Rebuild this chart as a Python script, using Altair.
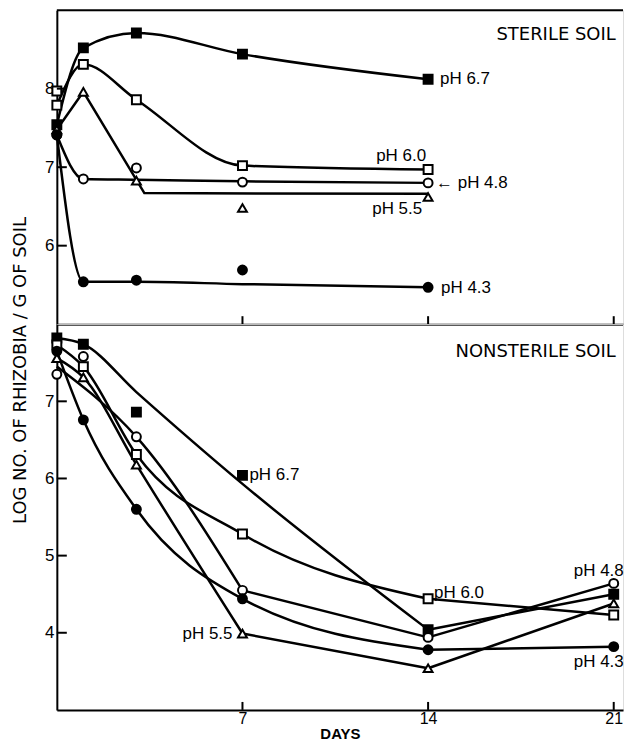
import altair as alt
import pandas as pd

SERIES = ["pH 6.7", "pH 6.0", "pH 5.5", "pH 4.8", "pH 4.3"]
SHAPES = ["square", "square", "triangle-up", "circle", "circle"]
FILLS = ["black", "white", "white", "white", "black"]

# ---------------- Sterile soil (observed points) ----------------
ST_DAYS = [0, 1, 3, 7, 14]
st_ph67 = [7.54, 8.52, 8.71, 8.44, 8.12]
st_ph60 = [7.79, 8.31, 7.86, 7.02, 6.97]
st_ph55 = [7.48, 7.96, 6.83, 6.48, 6.62]
st_ph48 = [7.41, 6.85, 6.99, 6.81, 6.80]
st_ph43 = [7.41, 5.54, 5.56, 5.69, 5.47]
st_extra_days = [0]
st_extra_vals = [7.97]          # second open square at day 0 (pH 6.0)

# Sterile soil drawn curves
st_curve_days = {
    "pH 6.7": [0, 1, 3, 7, 14],
    "pH 6.0": [0, 1, 3, 7, 14],
    "pH 5.5": [0, 1, 3.3, 14],
    "pH 4.8": [0, 1, 3, 7, 14],
    "pH 4.3": [0, 1, 3, 7, 14],
}
st_curve_vals = {
    "pH 6.7": [7.54, 8.52, 8.71, 8.44, 8.12],
    "pH 6.0": [7.79, 8.31, 7.86, 7.02, 6.97],
    "pH 5.5": [7.48, 7.96, 6.67, 6.66],
    "pH 4.8": [7.41, 6.85, 6.84, 6.82, 6.80],
    "pH 4.3": [7.41, 5.54, 5.54, 5.51, 5.47],
}
# sterile pH 5.5 is drawn with straight segments
st_linear = ["pH 5.5"]

# ---------------- Nonsterile soil (observed points) ----------------
NS_DAYS = [0, 1, 3, 7, 14, 21]
ns_ph67 = [7.82, 7.74, 6.86, 6.04, 4.04, 4.50]
ns_ph60 = [7.73, 7.45, 6.31, 5.28, 4.44, 4.23]
ns_ph55 = [7.56, 7.31, 6.18, 3.99, 3.54, 4.38]
ns_ph48 = [7.35, 7.58, 6.54, 4.55, 3.94, 4.64]
ns_ph43 = [7.65, 6.76, 5.60, 4.44, 3.78, 3.82]

ns_curve_days = {
    "pH 6.7": [0, 1, 3, 7, 14, 21],
    "pH 6.0": [0, 1, 3, 7, 14, 21],
    "pH 5.5": [0, 1, 3, 7, 14, 21],
    "pH 4.8": [0, 3, 7, 14, 21],
    "pH 4.3": [0, 1, 3, 7, 14, 21],
}
ns_curve_vals = {
    "pH 6.7": [7.82, 7.74, 7.12, 5.93, 4.04, 4.50],
    "pH 6.0": [7.73, 7.45, 6.31, 5.28, 4.44, 4.23],
    "pH 5.5": [7.56, 7.31, 6.18, 3.99, 3.54, 4.38],
    "pH 4.8": [7.45, 6.54, 4.55, 3.94, 4.64],
    "pH 4.3": [7.65, 6.76, 5.60, 4.44, 3.78, 3.82],
}
# days where the drawn curve has a sharp corner (curve is broken there)
ns_corners = {
    "pH 6.7": [14],
    "pH 6.0": [14],
    "pH 5.5": [7, 14],
    "pH 4.8": [7, 14],
    "pH 4.3": [14],
}

ST_YTICKS = [6, 7, 8]
NS_YTICKS = [4, 5, 6, 7]
XTICKS = [7, 14, 21]

# annotation labels: (text, day, value, dx, align)
st_labels = [
    ("pH 6.7", 14, 8.12, 12, "left"),
    ("pH 6.0", 14, 7.14, -2, "right"),
    ("\u2190 pH 4.8", 14, 6.80, 8, "left"),
    ("pH 5.5", 14, 6.47, -6, "right"),
    ("pH 4.3", 14, 5.46, 13, "left"),
]
ns_labels = [
    ("pH 6.7", 7, 6.04, 7, "left"),
    ("pH 6.0", 14, 4.52, 6, "left"),
    ("pH 5.5", 7, 3.98, -10, "right"),
    ("pH 4.8", 21, 4.80, -15, "center"),
    ("pH 4.3", 21, 3.62, -15, "center"),
]

W = 568
H_TOP = 315
H_BOT = 387
XDOM = [0, 21.35]
FONT = "Liberation Sans"


def obs_frame(days, rows):
    recs = []
    for s, vals in zip(SERIES, rows):
        for d, v in zip(days, vals):
            recs.append({"series": s, "day": d, "val": v})
    return recs


def curve_frame(cd, cv, corners=None, linear=()):
    """Split each drawn curve into pieces at its corner days."""
    recs = []
    for s in SERIES:
        cuts = (corners or {}).get(s, [])
        seg = 0
        for i, (d, v) in enumerate(zip(cd[s], cv[s])):
            recs.append({"series": s, "seg": f"{s}-{seg}", "day": d, "val": v, "i": i,
                         "lin": s in linear})
            if d in cuts:
                seg += 1
                recs.append({"series": s, "seg": f"{s}-{seg}", "day": d, "val": v,
                             "i": i, "lin": s in linear})
    return pd.DataFrame(recs)


st_obs = obs_frame(ST_DAYS, [st_ph67, st_ph60, st_ph55, st_ph48, st_ph43])
for d, v in zip(st_extra_days, st_extra_vals):
    st_obs.append({"series": "pH 6.0", "day": d, "val": v})
st_obs = pd.DataFrame(st_obs)
ns_obs = pd.DataFrame(obs_frame(NS_DAYS, [ns_ph67, ns_ph60, ns_ph55, ns_ph48, ns_ph43]))
st_curve = curve_frame(st_curve_days, st_curve_vals, linear=st_linear)
ns_curve = curve_frame(ns_curve_days, ns_curve_vals, corners=ns_corners)


def panel(obs, curve, ydom, yticks, labels, title_text, title_val, height, bottom):
    x = alt.X("day:Q", scale=alt.Scale(domain=XDOM, nice=False, zero=False),
              axis=alt.Axis(values=XTICKS, ticks=False, labels=bottom, grid=False,
                            domainColor="black", domainWidth=2,
                            labelFont=FONT, labelFontSize=16, labelColor="black",
                            labelPadding=1,
                            title="DAYS" if bottom else None,
                            titleFont=FONT, titleFontSize=15, titleFontWeight="bold",
                            titleColor="black", titlePadding=0))
    yaxis = dict(values=yticks, ticks=False, grid=False, domainColor="black",
                 domainWidth=2, labelFont=FONT, labelFontSize=17,
                 labelColor="black", labelPadding=3, title=None)
    if bottom:
        yaxis.update(title="LOG NO. OF RHIZOBIA / G OF SOIL", titleFont="DejaVu Sans",
                     titleFontSize=18, titleFontWeight="normal", titleColor="black",
                     titleAngle=270, titleAlign="center", titleBaseline="middle",
                     titleX=-36, titleY=46)
    y = alt.Y("val:Q", scale=alt.Scale(domain=ydom, nice=False, zero=False),
              axis=alt.Axis(**yaxis))

    l1 = alt.Chart(curve).transform_filter("!datum.lin").mark_line(
        color="black", strokeWidth=2.5, interpolate="monotone").encode(
        x=x, y=y, detail="seg:N", order="i:Q")
    l2 = alt.Chart(curve).transform_filter("datum.lin").mark_line(
        color="black", strokeWidth=2.5, interpolate="linear").encode(
        x=x, y=y, detail="seg:N", order="i:Q")
    layers = [l1, l2]

    pts = alt.Chart(obs).mark_point(size=80, strokeWidth=2, stroke="black",
                                    opacity=1, filled=False).encode(
        x=x, y=y,
        shape=alt.Shape("series:N", scale=alt.Scale(domain=SERIES, range=SHAPES), legend=None),
        fill=alt.Fill("series:N", scale=alt.Scale(domain=SERIES, range=FILLS), legend=None),
    )
    layers.append(pts)

    ytick_df = pd.DataFrame({"val": yticks})
    layers.append(alt.Chart(ytick_df).mark_rule(color="black", strokeWidth=2).encode(
        y=y, x=alt.value(0), x2=alt.value(10)))
    xtick_df = pd.DataFrame({"day": XTICKS})
    layers.append(alt.Chart(xtick_df).mark_rule(color="black", strokeWidth=2).encode(
        x=x, y=alt.value(height), y2=alt.value(height - 8)))

    lab_df = pd.DataFrame(labels, columns=["text", "day", "val", "dx", "align"])
    for _, r in lab_df.iterrows():
        layers.append(alt.Chart(pd.DataFrame([r])).mark_text(
            align=r["align"], baseline="middle", dx=int(r["dx"]), font=FONT, fontSize=17,
            color="black").encode(x=x, y=y, text="text:N"))

    ttl = pd.DataFrame({"day": [21.0], "val": [title_val], "text": [title_text]})
    layers.append(alt.Chart(ttl).mark_text(align="right", baseline="middle", dx=2,
                                           font="DejaVu Sans", fontSize=18,
                                           color="black").encode(x=x, y=y, text="text:N"))
    if not bottom:
        layers.append(alt.Chart(ttl).mark_rule(color="black", strokeWidth=2).encode(
            x=alt.value(0), x2=alt.value(W), y=alt.value(0)))
    return alt.layer(*layers).properties(width=W, height=height)


top = panel(st_obs, st_curve, [5, 9], ST_YTICKS, st_labels, "STERILE  SOIL", 8.68, H_TOP, False)
bot = panel(ns_obs, ns_curve, [3, 8], NS_YTICKS, ns_labels, "NONSTERILE  SOIL", 7.64, H_BOT, True)

chart = alt.vconcat(top, bot, spacing=0, bounds="flush").properties(
    padding={"left": 3, "top": -1, "right": 0, "bottom": 0}
).configure_view(stroke=None).configure(background="white")

chart.save("out.html", embed_options={"renderer": "svg", "actions": False})
